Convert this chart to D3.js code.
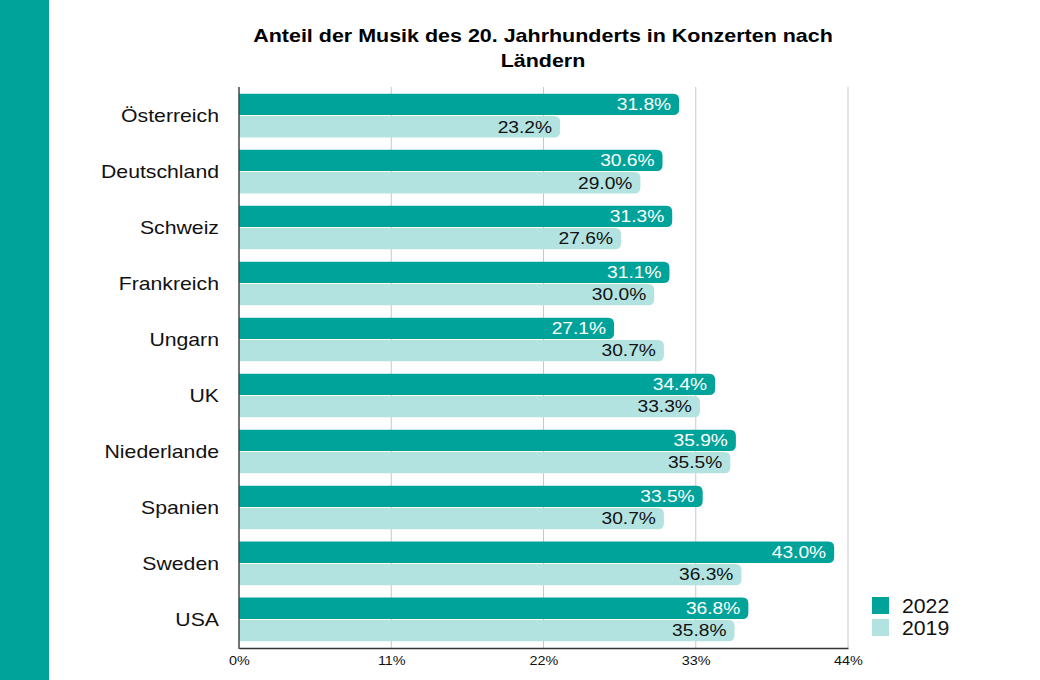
<!DOCTYPE html>
<html>
<head>
<meta charset="utf-8">
<script src="https://cdn.jsdelivr.net/npm/d3@7"></script>
<style>
  body { margin: 0; background: #fff; }
  svg { display: block; font-family: "Liberation Sans", Arial, sans-serif; }
</style>
</head>
<body>
<div id="chart"></div>
<script>
const laender = ["Österreich", "Deutschland", "Schweiz", "Frankreich", "Ungarn", "UK", "Niederlande", "Spanien", "Sweden", "USA"];
const werte2022 = [31.8, 30.6, 31.3, 31.1, 27.1, 34.4, 35.9, 33.5, 43.0, 36.8];
const werte2019 = [23.2, 29.0, 27.6, 30.0, 30.7, 33.3, 35.5, 30.7, 36.3, 35.8];
const jahre = ["2022", "2019"];
const ticksX = [0, 11, 22, 33, 44];

const dunkel = "#00a39a";
const hell = "#b2e3e0";

const width = 1040, height = 680;
const svg = d3.select("#chart").append("svg")
    .attr("width", width)
    .attr("height", height);

// die schrift im original ist etwas breiter gezogen
function breit(sx) {
    return (d, i, n) => {
        const t = d3.select(n[i]);
        return `translate(${t.attr("data-x")},${t.attr("data-y")}) scale(${sx},1)`;
    };
}

// streifen links
svg.append("rect")
    .attr("x", 0).attr("y", 0)
    .attr("width", 49).attr("height", height)
    .attr("fill", dunkel);

// titel
svg.append("g").selectAll("text")
    .data(["Anteil der Musik des 20. Jahrhunderts in Konzerten nach", "Ländern"])
    .join("text")
    .attr("data-x", 543)
    .attr("data-y", (d, i) => 42 + i * 25)
    .attr("transform", breit(1.13))
    .attr("text-anchor", "middle")
    .attr("font-size", 19).attr("font-weight", "bold")
    .attr("fill", "#000")
    .text(d => d);

const x = d3.scaleLinear().domain([0, 44]).range([239, 848]);
const y = d3.scaleBand().domain(laender).range([87, 648])
    .paddingInner(0.22).paddingOuter(0.12);
const yInner = d3.scaleBand().domain(jahre).range([0, y.bandwidth()]).paddingInner(0.05);

const datos = laender.map((l, i) => ({land: l, werte: [
    {jahr: "2022", wert: werte2022[i]},
    {jahr: "2019", wert: werte2019[i]}
]}));

// gitterlinien
svg.append("g")
    .selectAll("line")
    .data(ticksX.slice(1))
    .join("line")
    .attr("x1", d => x(d)).attr("x2", d => x(d))
    .attr("y1", 87).attr("y2", 648)
    .attr("stroke", "#c8c8c8").attr("stroke-width", 1);

// balken mit runden enden rechts
function balkenPfad(x0, y0, w, h, r) {
    r = Math.min(r, w, h / 2);
    return `M${x0},${y0} H${x0 + w - r} Q${x0 + w},${y0} ${x0 + w},${y0 + r}` +
        ` V${y0 + h - r} Q${x0 + w},${y0 + h} ${x0 + w - r},${y0 + h} H${x0} Z`;
}

const gruppen = svg.append("g")
    .selectAll("g")
    .data(datos)
    .join("g")
    .attr("transform", d => `translate(0,${y(d.land)})`);

const balken = gruppen.selectAll("g")
    .data(d => d.werte)
    .join("g");

balken.append("path")
    .attr("d", d => balkenPfad(x(0), yInner(d.jahr), x(d.wert) - x(0), yInner.bandwidth(), 6))
    .attr("fill", d => d.jahr === "2022" ? dunkel : hell);

balken.append("text")
    .attr("data-x", d => x(d.wert) - 8)
    .attr("data-y", d => yInner(d.jahr) + yInner.bandwidth() / 2)
    .attr("transform", breit(1.2))
    .attr("dy", "0.36em")
    .attr("text-anchor", "end")
    .attr("font-size", 16)
    .attr("fill", d => d.jahr === "2022" ? "#fff" : "#111")
    .text(d => d.wert.toFixed(1) + "%");

// laender beschriftung
svg.append("g")
    .selectAll("text")
    .data(laender)
    .join("text")
    .attr("data-x", 219)
    .attr("data-y", d => y(d) + y.bandwidth() / 2)
    .attr("transform", breit(1.18))
    .attr("dy", "0.36em")
    .attr("text-anchor", "end")
    .attr("font-size", 18)
    .attr("fill", "#111")
    .text(d => d);

// achsen
const achseX = svg.append("g")
    .attr("transform", "translate(0,648)")
    .call(d3.axisBottom(x).tickValues(ticksX).tickSize(0).tickPadding(8).tickFormat(d => d + "%"));
achseX.select(".domain").attr("stroke", "#333").attr("stroke-width", 1.5);
achseX.selectAll("text").attr("font-size", 12).attr("fill", "#111")
    .attr("transform", "scale(1.2,1)")
    .attr("font-family", "Liberation Sans, Arial, sans-serif");

svg.append("line")
    .attr("x1", x(0)).attr("x2", x(0))
    .attr("y1", 87).attr("y2", 649)
    .attr("stroke", "#444").attr("stroke-width", 1.5);

// legende
const legende = svg.append("g")
    .selectAll("g")
    .data(jahre)
    .join("g")
    .attr("transform", (d, i) => `translate(872,${597 + i * 22})`);
legende.append("rect")
    .attr("width", 17).attr("height", 17)
    .attr("fill", d => d === "2022" ? dunkel : hell);
legende.append("text")
    .attr("data-x", 30).attr("data-y", 9)
    .attr("transform", breit(1.09))
    .attr("dy", "0.36em")
    .attr("font-size", 19.5)
    .attr("fill", "#111")
    .text(d => d);
</script>
</body>
</html>
